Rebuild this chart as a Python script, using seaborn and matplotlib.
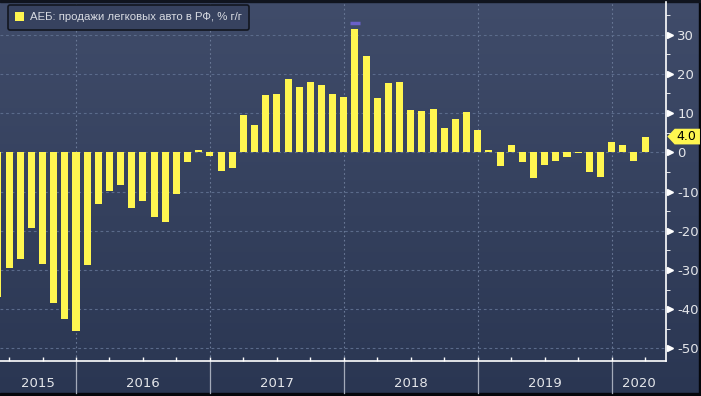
import matplotlib
matplotlib.use('Agg')
import numpy as np
import pandas as pd
import seaborn as sns
import matplotlib.pyplot as plt
from matplotlib import transforms
from matplotlib.patches import Polygon, Rectangle

# AEB passenger car sales in Russia, % y/y (monthly, bars at month end)
v2015 = [-37.0, -29.6, -27.3, -19.3, -28.4, -38.3, -42.4, -45.5]  # May..Dec
v2016 = [-28.8, -13.2, -9.9, -8.3, -14.2, -12.5, -16.5, -17.8, -10.6, -2.4, 0.6, -0.9]
v2017 = [-4.8, -4.0, 9.5, 6.9, 14.6, 14.9, 18.7, 16.7, 17.9, 17.2, 14.9, 14.1]
v2018 = [31.3, 24.6, 13.8, 17.7, 17.9, 10.8, 10.5, 11.0, 6.2, 8.4, 10.2, 5.8]
v2019 = [0.6, -3.4, 1.9, -2.5, -6.6, -3.2, -2.2, -1.2, -0.2, -5.1, -6.3, 2.5]
v2020 = [1.9, -2.2, 4.0]  # Jan..Mar

years = [2015, 2016, 2017, 2018, 2019, 2020]
yticks = [-50, -40, -30, -20, -10, 0, 10, 20, 30]
series_name = 'АЕБ: продажи легковых авто в РФ, % г/г'

values = v2015 + v2016 + v2017 + v2018 + v2019 + v2020
months = [str(p) for p in pd.period_range('2015-05', periods=len(values), freq='M')]
df = pd.DataFrame({'month': months, 'yoy': values})

yellow = '#fff650'
txt = '#e4e6ea'
narrow = ['Liberation Sans Narrow', 'DejaVu Sans']

fig = plt.figure(figsize=(7.01, 3.96), dpi=100)

# background gradient over the whole figure
bg = fig.add_axes([0, 0, 1, 1])
grad = np.linspace(0, 1, 256).reshape(-1, 1)
top_c = np.array([0x40, 0x4c, 0x6a]) / 255
bot_c = np.array([0x2a, 0x36, 0x52]) / 255
img = top_c[None, None, :] * (1 - grad[:, :, None]) + bot_c[None, None, :] * grad[:, :, None]
bg.imshow(img, aspect='auto', extent=[0, 1, 0, 1])
bg.set_axis_off()
# dark frame strips
bg.add_patch(Rectangle((0, 0), 1, 3 / 396, color='#05070c', transform=bg.transAxes))
bg.add_patch(Rectangle((699 / 701, 0), 2 / 701, 1, color='#05070c', transform=bg.transAxes))
bg.add_patch(Rectangle((0, 1 - 1.5 / 396), 1, 1.5 / 396, color='#10141e', transform=bg.transAxes))

ax = fig.add_axes([0, 35 / 396, 666 / 701, 359 / 396])
ax.set_facecolor('none')

sns.barplot(data=df, x='month', y='yoy', color=yellow, saturation=1, width=0.63,
            label=series_name, ax=ax, zorder=3)

kmax = int(np.argmax(values))
ax.plot([kmax], [values[kmax] + 1.6], marker='_', ms=7, mew=2.5, color='#6a60c8', zorder=4)

ax.set_xlim(0.19, 59.87)
ax.set_ylim(-53.2, 38.3)
ax.set_xlabel('')
ax.set_ylabel('')

# year separators: bar for December sits on the year boundary
sep = [7 + 12 * i for i in range(5)]
for s in sep:
    ax.axvline(s, color='#6a7997', lw=0.8, ls=(0, (1.5, 2.5)), zorder=1)
for v in yticks:
    ax.axhline(v, color='#5b6b8b', lw=0.8, ls=(0, (2.5, 2.5)), zorder=1)

# spines
for side in ['left', 'top']:
    ax.spines[side].set_visible(False)
ax.spines['right'].set_color('white')
ax.spines['bottom'].set_color('white')
ax.spines['right'].set_linewidth(1.2)
ax.spines['bottom'].set_linewidth(1.2)

# x ticks at quarters
ax.set_xticks(list(range(1, 60, 3)))
ax.set_xticklabels([])
ax.tick_params(axis='x', direction='in', length=3, color='white', width=1)

tb = transforms.blended_transform_factory(ax.transData, ax.transAxes)
for s in sep:
    ax.plot([s, s], [0, -0.09], color='#a4abba', lw=0.9, transform=tb, clip_on=False)
edges = [0.19] + sep + [59.87]
for i, yr in enumerate(years):
    ax.text((edges[i] + edges[i + 1]) / 2, -0.062, str(yr), transform=tb, ha='center',
            va='center', color=txt, fontsize=9.5, family=narrow)

# y axis on the right
ax.yaxis.tick_right()
ax.set_yticks(yticks)
ax.set_yticklabels([str(v) for v in yticks], family=narrow)
ax.set_yticks(list(range(-45, 40, 10)), minor=True)
ax.tick_params(axis='y', which='major', length=0, pad=8, labelcolor=txt, labelsize=9.5)
ax.tick_params(axis='y', which='minor', length=3, color='white', direction='out')
ta = transforms.blended_transform_factory(ax.transAxes, ax.transData)
for v in yticks:
    ax.plot([1.006], [v], marker='>', ms=5, color='white', transform=ta, clip_on=False)

# last value label
last = values[-1]
ax.add_patch(Polygon([(1.002, last), (1.013, last + 2.0), (1.051, last + 2.0),
                      (1.051, last - 2.0), (1.013, last - 2.0)], closed=True,
                     facecolor=yellow, edgecolor='none', transform=ta, clip_on=False))
ax.text(1.031, last, f'{last:.1f}', transform=ta, ha='center', va='center',
        fontsize=9, color='black', family=narrow)

leg = ax.legend(loc='upper left', bbox_to_anchor=(0.012, 0.992), borderaxespad=0,
                frameon=True, fancybox=True, handlelength=0.75, handleheight=0.75,
                handletextpad=0.5, borderpad=0.65,
                prop={'family': ['Liberation Sans', 'DejaVu Sans'], 'size': 8.2})
leg.get_frame().set_facecolor('#37425f')
leg.get_frame().set_edgecolor('#12161f')
leg.get_frame().set_alpha(1)
leg.get_frame().set_linewidth(1.2)
for t in leg.get_texts():
    t.set_color('#d8dbe2')

fig.savefig('out.png', dpi=100)
